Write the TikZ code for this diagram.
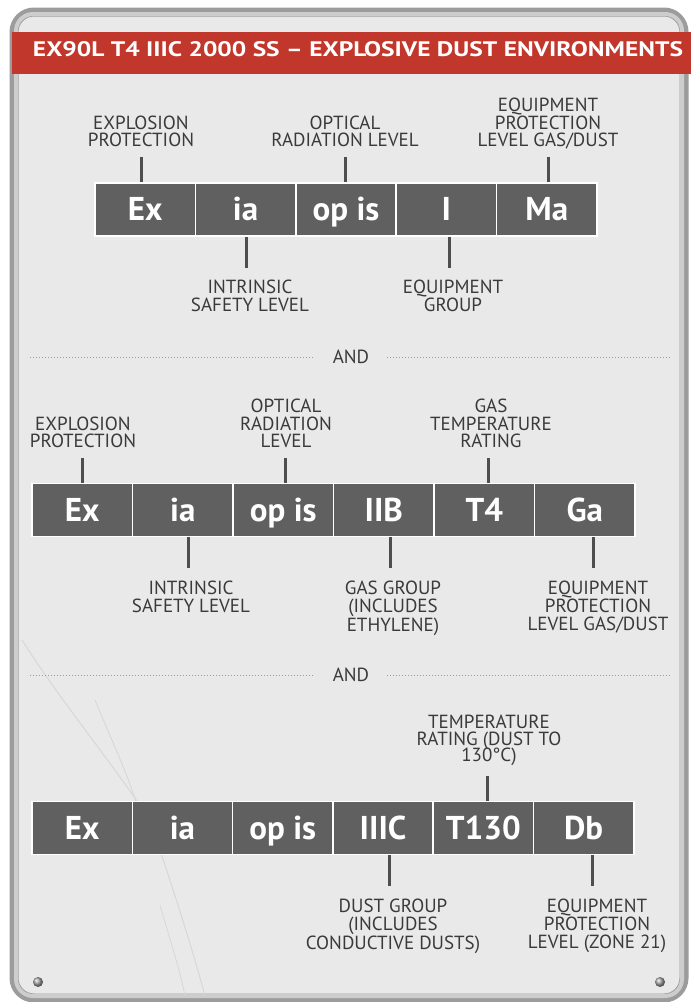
\documentclass[tikz,border=0pt]{standalone}
\usepackage{fontspec}
\usepackage{graphicx}
\setmainfont{PT Sans}
\definecolor{hdrred}{HTML}{C1372C}
\definecolor{boxgray}{HTML}{606060}
\definecolor{labgray}{HTML}{3A3A3A}
\definecolor{platebg}{HTML}{E9E9E9}
\definecolor{rimdark}{HTML}{9C9C9C}
\definecolor{rimlight}{HTML}{CDCDCD}
\definecolor{crack}{HTML}{D6D6D6}
\begin{document}
\begin{tikzpicture}[x=1pt,y=-1pt,
  cell/.style={draw=white,line width=1.6pt,fill=boxgray,text=white,
    minimum height=53pt,inner sep=0pt,text height=22pt,text depth=0pt,
    font=\fontsize{33}{36}\selectfont\bfseries},
  lab/.style={text=labgray,align=center,inner sep=0pt,
    font=\fontsize{19}{17.7}\selectfont},
  conn/.style={draw=labgray!90,line width=3pt},
  sep/.style={draw=gray!80,line width=1pt,dash pattern=on 1pt off 2pt},
  andlab/.style={text=labgray,inner sep=0pt,font=\fontsize{19}{20}\selectfont}]
\useasboundingbox (0,0) rectangle (691,1002);
\fill[white] (0,0) rectangle (691,1002);
% plate
\draw[line width=9pt,draw=rimdark,fill=platebg,rounded corners=20pt] (14,12) rectangle (684,998);
\draw[line width=4pt,draw=rimlight,rounded corners=17pt] (16,14) rectangle (682,996);
% faint cracks
\draw[crack,line width=0.9pt] (22,640) .. controls (60,700) and (110,760) .. (150,820) .. controls (170,880) and (190,940) .. (205,996);
\draw[crack,line width=0.8pt] (95,700) .. controls (120,760) and (135,790) .. (140,820);
\draw[crack,line width=0.7pt] (160,905) .. controls (170,940) and (180,970) .. (185,996);
% header
\fill[hdrred] (12,32) rectangle (691,74);
\node[text=white,inner sep=0pt,font=\bfseries] (title) at (358,49.2)
  {\resizebox{650pt}{15pt}{EX90L T4 IIIC 2000 SS – EXPLOSIVE DUST ENVIRONMENTS}};
% ---------- row 1
\node[cell,minimum width=100.4pt] (a1) at (145.2,209.5) {Ex};
\node[cell,minimum width=100.4pt] (a2) at (245.6,209.5) {ia};
\node[cell,minimum width=100.4pt] (a3) at (346,209.5) {op is};
\node[cell,minimum width=100.4pt] (a4) at (446.4,209.5) {I};
\node[cell,minimum width=100.4pt] (a5) at (546.8,209.5) {Ma};
\node[lab,anchor=base] (la1) at (141,146.7) {EXPLOSION\\PROTECTION};
\node[lab,anchor=base] (la3) at (345,146.7) {OPTICAL\\RADIATION LEVEL};
\node[lab,anchor=base] (la5) at (548,146.7) {EQUIPMENT\\PROTECTION\\LEVEL GAS/DUST};
\node[lab,anchor=north] (la2) at (250,280) {INTRINSIC\\SAFETY LEVEL};
\node[lab,anchor=north] (la4) at (453,280) {EQUIPMENT\\GROUP};
\coordinate (ca1) at (141,157); \draw[conn] (ca1) -- (ca1 |- a1.north);
\coordinate (ca3) at (345,157); \draw[conn] (ca3) -- (ca3 |- a3.north);
\coordinate (ca5) at (548,157); \draw[conn] (ca5) -- (ca5 |- a5.north);
\coordinate (ca2) at (246,268); \draw[conn] (ca2 |- a2.south) -- (ca2);
\coordinate (ca4) at (449,268); \draw[conn] (ca4 |- a4.south) -- (ca4);
% separator 1
\node[andlab] (and1) at (351,357) {AND};
\coordinate (s1l) at (30,357); \coordinate (s1r) at (670,357);
\draw[sep] (s1l) -- ([xshift=-18pt]and1.west);
\draw[sep] ([xshift=18pt]and1.east) -- (s1r);
% ---------- row 2
\node[cell,minimum width=100.5pt] (b1) at (82.25,510) {Ex};
\node[cell,minimum width=100.5pt] (b2) at (182.75,510) {ia};
\node[cell,minimum width=100.5pt] (b3) at (283.25,510) {op is};
\node[cell,minimum width=100.5pt] (b4) at (383.75,510) {IIB};
\node[cell,minimum width=100.5pt] (b5) at (484.25,510) {T4};
\node[cell,minimum width=100.5pt] (b6) at (584.75,510) {Ga};
\node[lab,anchor=base] (lb1) at (83,447.7) {EXPLOSION\\PROTECTION};
\node[lab,anchor=base] (lb3) at (286,447.7) {OPTICAL\\RADIATION\\LEVEL};
\node[lab,anchor=base] (lb5) at (491,447.7) {GAS\\TEMPERATURE\\RATING};
\node[lab,anchor=north] (lb2) at (191,581) {INTRINSIC\\SAFETY LEVEL};
\node[lab,anchor=north] (lb4) at (393,581) {GAS GROUP\\(INCLUDES\\ETHYLENE)};
\node[lab,anchor=north] (lb6) at (598,581) {EQUIPMENT\\PROTECTION\\LEVEL GAS/DUST};
\coordinate (cb1) at (82,458); \draw[conn] (cb1) -- (cb1 |- b1.north);
\coordinate (cb3) at (285,458); \draw[conn] (cb3) -- (cb3 |- b3.north);
\coordinate (cb5) at (488,458); \draw[conn] (cb5) -- (cb5 |- b5.north);
\coordinate (cb2) at (188,568); \draw[conn] (cb2 |- b2.south) -- (cb2);
\coordinate (cb4) at (390,568); \draw[conn] (cb4 |- b4.south) -- (cb4);
\coordinate (cb6) at (593,568); \draw[conn] (cb6 |- b6.south) -- (cb6);
% separator 2
\node[andlab] (and2) at (351,675) {AND};
\coordinate (s2l) at (30,675); \coordinate (s2r) at (670,675);
\draw[sep] (s2l) -- ([xshift=-18pt]and2.west);
\draw[sep] ([xshift=18pt]and2.east) -- (s2r);
% ---------- row 3
\node[cell,minimum width=100.3pt] (c1) at (82.15,828) {Ex};
\node[cell,minimum width=100.3pt] (c2) at (182.45,828) {ia};
\node[cell,minimum width=100.3pt] (c3) at (282.75,828) {op is};
\node[cell,minimum width=100.3pt] (c4) at (383.05,828) {IIIC};
\node[cell,minimum width=100.3pt] (c5) at (483.35,828) {T130};
\node[cell,minimum width=100.3pt] (c6) at (583.65,828) {Db};
\node[lab,anchor=base] (lc5) at (489,761.7) {TEMPERATURE\\RATING (DUST TO\\[-2.7pt]130°C)};
\node[lab,anchor=north] (lc4) at (393,899) {DUST GROUP\\(INCLUDES\\CONDUCTIVE DUSTS)};
\node[lab,anchor=north] (lc6) at (597,899) {EQUIPMENT\\PROTECTION\\LEVEL (ZONE 21)};
\coordinate (cc5) at (487,776); \draw[conn] (cc5) -- (cc5 |- c5.north);
\coordinate (cc4) at (389,886); \draw[conn] (cc4 |- c4.south) -- (cc4);
\coordinate (cc6) at (592,886); \draw[conn] (cc6 |- c6.south) -- (cc6);
% screws
\shade[ball color=gray!70] (38,982) circle (5pt);
\shade[ball color=gray!70] (660,982) circle (5pt);
\end{tikzpicture}
\end{document}
